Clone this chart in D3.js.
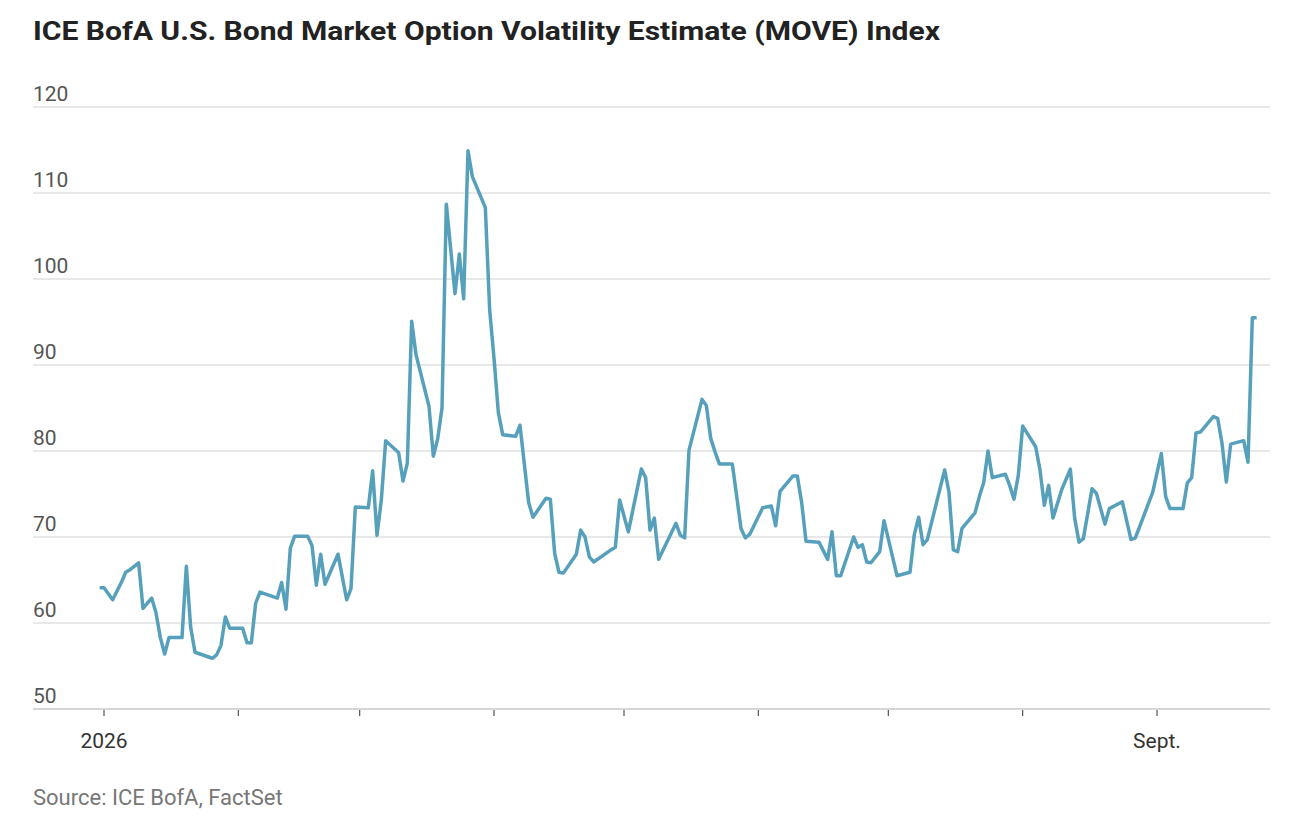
<!DOCTYPE html>
<html><head><meta charset="utf-8">
<script src="https://cdn.jsdelivr.net/npm/d3@7"></script>
<style>
body{margin:0;background:#fff;}
text{font-family:"Roboto","Liberation Sans",sans-serif;}
</style></head><body>
<svg id="c" width="1292" height="830"></svg>
<script>
// Day offsets from Jan 1, 2026 and MOVE index values
const dayOffsets = [-1,0,2,4,5,6,8,9,11,12,13,14,15,18,19,20,21,25,26,27,28,29,32,33,34,35,36,40,41,42,43,44,47,48,49,50,51,54,56,57,58,61,62,63,64,65,68,69,70,71,72,75,76,77,78,79,81,82,83,84,85,88,89,90,91,92,95,96,98,99,102,103,104,105,106,109,110,111,112,113,117,118,119,121,124,125,126,127,128,132,133,134,135,138,139,140,141,142,145,147,148,149,152,154,155,156,159,160,161,162,165,167,168,169,170,173,174,175,176,177,179,180,183,186,187,188,189,190,194,195,196,197,198,201,202,203,204,205,208,209,210,211,212,215,216,217,218,219,221,223,224,225,226,228,229,231,232,235,237,238,239,242,244,245,246,249,250,251,252,253,256,257,258,259,260,263,264,265,266];
const moveValues = [64.1,64.1,62.7,64.7,65.9,66.2,67.0,61.7,62.9,61.2,58.3,56.4,58.3,58.3,66.6,59.5,56.6,55.9,56.3,57.4,60.7,59.4,59.4,57.7,57.7,62.3,63.6,62.9,64.7,61.6,68.7,70.1,70.1,69.0,64.4,68.0,64.5,68.0,62.7,64.0,73.5,73.4,77.7,70.2,74.3,81.2,79.8,76.5,78.6,95.1,91.2,85.2,79.4,81.4,85.0,108.7,98.3,102.9,97.7,114.9,111.9,108.3,96.4,90.8,84.5,81.9,81.7,83.0,74.0,72.3,74.5,74.4,68.1,65.9,65.8,68.0,70.8,70.0,67.7,67.1,68.5,68.8,74.3,70.6,77.9,76.9,70.8,72.2,67.4,71.6,70.2,69.9,80.1,86.0,85.3,81.5,79.9,78.5,78.5,71.0,69.9,70.3,73.4,73.6,71.3,75.3,77.1,77.1,74.0,69.5,69.4,67.4,70.6,65.5,65.5,70.0,68.8,69.1,67.1,67.0,68.3,71.9,65.5,65.9,70.3,72.3,69.1,69.7,77.8,75.2,68.5,68.3,71.0,72.8,74.7,76.3,80.0,76.9,77.3,76.0,74.4,77.2,82.9,80.5,77.8,73.7,76.0,72.2,75.5,77.9,72.2,69.4,69.8,75.6,75.1,71.5,73.3,74.1,69.7,69.9,71.2,75.2,79.7,74.7,73.3,73.3,76.3,76.9,82.1,82.2,84.0,83.8,80.9,76.4,80.8,81.2,78.7,95.5,95.5];
const yTicks = [50,60,70,80,90,100,110,120];
const monthTicks = ["2026-01-01","2026-02-01","2026-03-01","2026-04-01","2026-05-01","2026-06-01","2026-07-01","2026-08-01","2026-09-01"];
const monthLabels = {"2026-01-01":"2026","2026-09-01":"Sept."};
const titleText = "ICE BofA U.S. Bond Market Option Volatility Estimate (MOVE) Index";
const sourceText = "Source: ICE BofA, FactSet";

const start = new Date(Date.UTC(2026,0,1));
const data = dayOffsets.map((d,i)=>({date:d3.utcDay.offset(start,d), v:moveValues[i]}));

const svg = d3.select("#c");
const x = d3.scaleUtc().domain([start, new Date(Date.UTC(2026,8,1))]).range([104,1157]);
const y = d3.scaleLinear().domain([50,120]).range([709,107]);

svg.append("text").attr("x",33).attr("y",40).attr("font-size",25).attr("font-weight",700)
  .attr("fill","#222").attr("textLength",907).attr("lengthAdjust","spacingAndGlyphs").text(titleText);

const g = svg.append("g");
yTicks.forEach(t=>{
  g.append("line").attr("x1",33).attr("x2",1270).attr("y1",y(t)).attr("y2",y(t))
    .attr("stroke", t===50? "#c8c8c8":"#e0e0e0").attr("stroke-width",1.5);
  g.append("text").attr("x",33).attr("y",y(t)-6).attr("font-size",21).attr("fill","#555").text(t);
});
monthTicks.forEach(s=>{
  const d = new Date(s+"T00:00:00Z");
  g.append("line").attr("x1",x(d)).attr("x2",x(d)).attr("y1",710).attr("y2",716).attr("stroke","#555").attr("stroke-width",1.2);
  if(monthLabels[s]) g.append("text").attr("x",x(d)).attr("y",748).attr("text-anchor","middle")
    .attr("font-size",21).attr("fill","#333").text(monthLabels[s]);
});

svg.append("path").datum(data)
  .attr("d", d3.line().x(d=>x(d.date)).y(d=>y(d.v)))
  .attr("fill","none").attr("stroke","#57a0bb").attr("stroke-width",3.5).attr("stroke-linejoin","round");

svg.append("text").attr("x",33).attr("y",805).attr("font-size",22).attr("fill","#777").text(sourceText);
</script></body></html>
